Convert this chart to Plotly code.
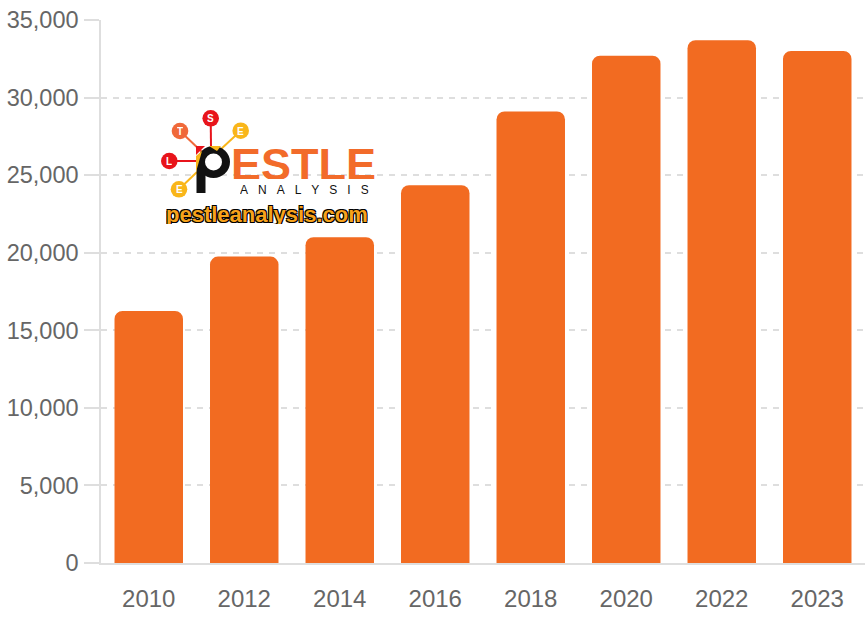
import plotly.graph_objects as go

years = ["2010", "2012", "2014", "2016", "2018", "2020", "2022", "2023"]
values = [16250, 19750, 21000, 24350, 29100, 32700, 33700, 33000]

BAR = "#f26b21"
GRID = "#dedede"
TXT = "#666666"
FONT = "Liberation Sans, Arial, Helvetica, sans-serif"

fig = go.Figure(go.Bar(x=years, y=values, marker=dict(color=BAR, line=dict(width=0)),
                       hoverinfo="x+y"))

W, H = 866, 620
L, R, T, B = 101, 1, 20, 57
PW, PH = W - L - R, H - T - B


def X(px):
    return (px - L) / PW


def Y(py):
    return (H - B - py) / PH


shapes = []
ann = []

# logo: connector lines
nodes = [
    ("S", 210.7, 118.3, "#e8141b", (211, 147)),
    ("T", 180, 131, "#f0693a", (202, 152)),
    ("E", 240.7, 130.7, "#f9b61a", (220, 150)),
    ("L", 169.3, 161, "#e8141b", (196, 161)),
    ("E", 179, 189.3, "#f9b61a", (197, 172)),
]
for lab, cx, cy, col, end in nodes:
    shapes.append(dict(type="line", xref="paper", yref="paper",
                       x0=X(cx), y0=Y(cy), x1=X(end[0]), y1=Y(end[1]),
                       line=dict(color=col, width=2)))
for lab, cx, cy, col, end in nodes:
    r = 8.3
    shapes.append(dict(type="circle", xref="paper", yref="paper",
                       x0=X(cx - r), x1=X(cx + r), y0=Y(cy + r), y1=Y(cy - r),
                       fillcolor=col, line=dict(width=0)))
    ann.append(dict(text="<b>%s</b>" % lab, x=X(cx), y=Y(cy), xref="paper", yref="paper",
                    showarrow=False, font=dict(color="white", size=10, family=FONT),
                    xanchor="center", yanchor="middle", height=12))

# the "P"
pc = (213.5, 162)
shapes.append(dict(type="circle", xref="paper", yref="paper",
                   x0=X(pc[0] - 16.5), x1=X(pc[0] + 16.5), y0=Y(pc[1] + 16), y1=Y(pc[1] - 16),
                   fillcolor="#111111", line=dict(width=0)))
shapes.append(dict(type="rect", xref="paper", yref="paper",
                   x0=X(196.5), x1=X(205.5), y0=Y(193), y1=Y(162),
                   fillcolor="#111111", line=dict(width=0)))
shapes.append(dict(type="path", xref="paper", yref="paper",
                   path="M %f,%f L %f,%f L %f,%f Z" % (X(196), Y(146), X(205), Y(146), X(196), Y(155)),
                   fillcolor="#e8141b", line=dict(width=0)))
shapes.append(dict(type="path", xref="paper", yref="paper",
                   path="M %f,%f L %f,%f L %f,%f Z" % (X(196), Y(156), X(202), Y(151), X(196), Y(172)),
                   fillcolor="#f9b61a", line=dict(width=0)))
shapes.append(dict(type="path", xref="paper", yref="paper",
                   path="M %f,%f L %f,%f L %f,%f Z" % (X(209), Y(146), X(221), Y(146), X(217), Y(151)),
                   fillcolor="#f9b61a", line=dict(width=0)))
shapes.append(dict(type="circle", xref="paper", yref="paper",
                   x0=X(pc[0] - 8.5), x1=X(pc[0] + 8.5), y0=Y(pc[1] + 8.5), y1=Y(pc[1] - 8.5),
                   fillcolor="white", line=dict(width=0)))

ann.append(dict(text="<b>ESTLE</b>", x=X(229), y=Y(164), xref="paper", yref="paper",
                showarrow=False, xanchor="left", yanchor="middle", height=30,
                font=dict(color="#f26b2a", size=45, family=FONT)))
ann.append(dict(text="A&nbsp;&nbsp;&nbsp;N&nbsp;&nbsp;&nbsp;A&nbsp;&nbsp;&nbsp;L&nbsp;&nbsp;&nbsp;Y&nbsp;&nbsp;&nbsp;S&nbsp;&nbsp;&nbsp;I&nbsp;&nbsp;&nbsp;S",
                x=X(304), y=Y(189.5), xref="paper", yref="paper",
                showarrow=False, xanchor="center", yanchor="middle", height=9,
                font=dict(color="#111111", size=12, family=FONT)))
ann.append(dict(text="<b>pestleanalysis.com</b>", x=X(267), y=Y(214), xref="paper", yref="paper",
                showarrow=False, xanchor="center", yanchor="middle", height=20,
                font=dict(color="#f7a21b", size=22, family=FONT,
                          shadow="1px 1px 0 #000, -1px -1px 0 #000, 1px -1px 0 #000, -1px 1px 0 #000")))

fig.update_layout(
    width=W, height=H,
    margin=dict(l=L, r=R, t=T, b=B, pad=0),
    plot_bgcolor="white", paper_bgcolor="white",
    bargap=0.283,
    barcornerradius=8,
    showlegend=False,
    font=dict(family=FONT, size=24, color=TXT),
    shapes=shapes,
    annotations=ann,
    xaxis=dict(type="category", showgrid=False, showline=True, linecolor=GRID, linewidth=1.5,
               ticks="", ticklabelstandoff=13, tickfont=dict(size=24, color=TXT),
               zeroline=False),
    yaxis=dict(range=[0, 35000], dtick=5000, tickformat=",", showgrid=True, gridcolor=GRID,
               griddash="6px,6px", gridwidth=1.5, showline=True, linecolor=GRID, linewidth=1.5,
               ticks="outside", ticklen=15, tickcolor=GRID, tickwidth=1.5, ticklabelstandoff=1,
               zeroline=False, tickfont=dict(size=23.5, color=TXT)),
)

fig.write_html("out.html", config={"displayModeBar": False},
               post_script="document.body.style.margin='0';document.body.style.overflow='hidden';")
